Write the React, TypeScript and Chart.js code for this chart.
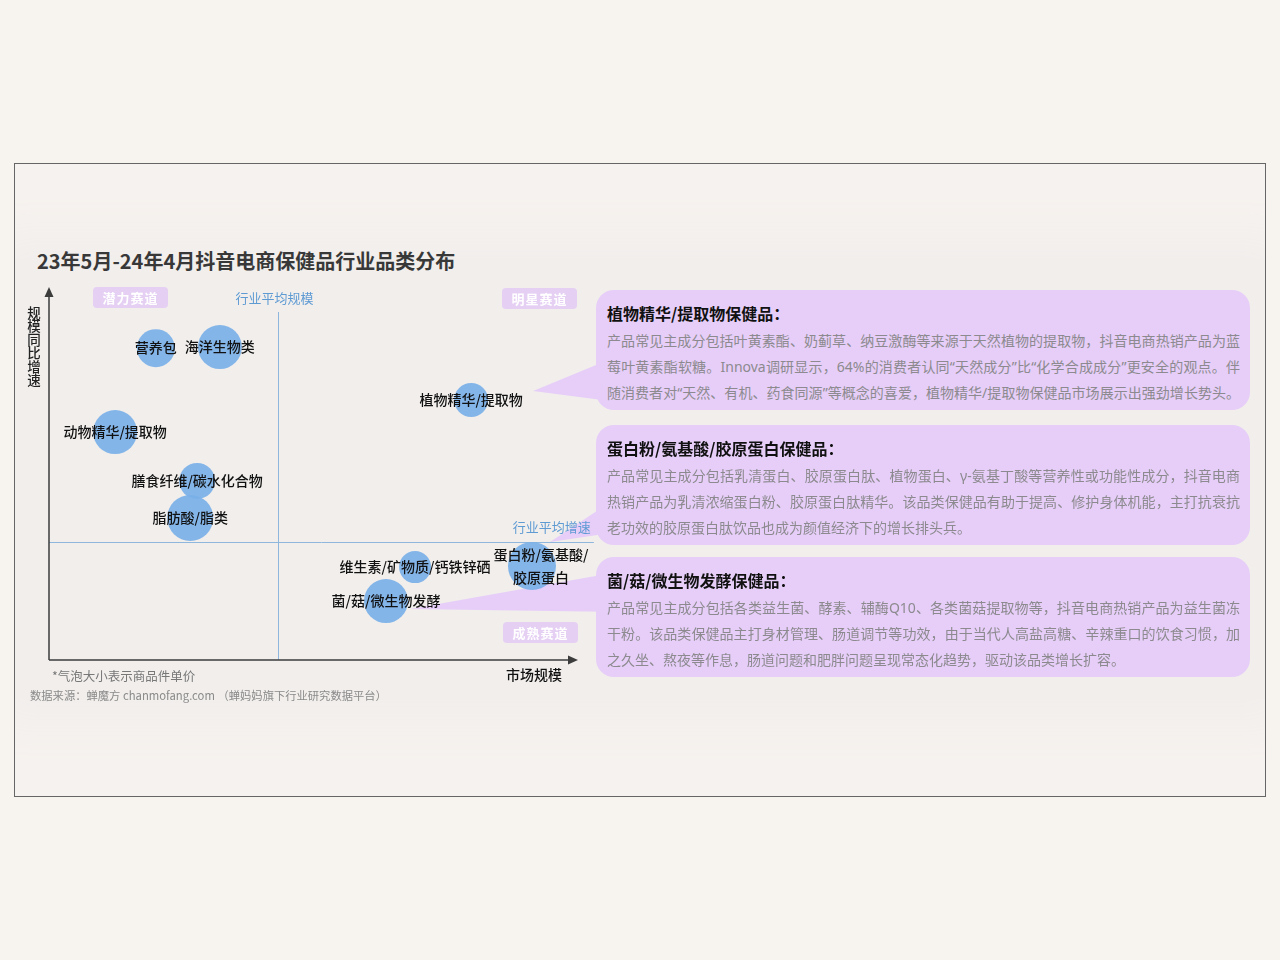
import React, { useEffect, useRef } from "react";
import { Chart, registerables } from "chart.js";

Chart.register(...registerables);

// ---------- data ----------
const categories = [
  "营养包",
  "海洋生物类",
  "动物精华/提取物",
  "膳食纤维/碳水化合物",
  "脂肪酸/脂类",
  "植物精华/提取物",
  "维生素/矿物质/钙铁锌硒",
  "菌/菇/微生物发酵",
  "蛋白粉/氨基酸/|胶原蛋白",
];
// market scale (x), YoY growth (y), bubble size = unit price
const marketScale = [20.2, 32.3, 12.5, 28.0, 26.7, 79.8, 69.2, 63.7, 91.3];
const growthRate = [83.6, 83.9, 61.1, 48.0, 38.1, 69.7, 24.9, 15.8, 25.2];
const unitPrice = [19, 22, 22, 18, 23, 17, 16, 22, 24];
const labelShiftX = [0, 0, 0, 0, 0, 0, 0, 0, 9];

const AVG_SCALE = 43.3;
const AVG_GROWTH = 31.6;

const TITLE = "23年5月-24年4月抖音电商保健品行业品类分布";
const X_TITLE = "市场规模";
const Y_TITLE = "规模同比增速";
const AVG_SCALE_LABEL = "行业平均规模";
const AVG_GROWTH_LABEL = "行业平均增速";
const quadrantLabels = ["潜力赛道", "明星赛道", "成熟赛道"];
const NOTE = "*气泡大小表示商品件单价";
const SOURCE = "数据来源：蝉魔方 chanmofang.com （蝉妈妈旗下行业研究数据平台）";

const boxTitles = [
  "植物精华/提取物保健品：",
  "蛋白粉/氨基酸/胶原蛋白保健品：",
  "菌/菇/微生物发酵保健品：",
];
const boxLines = [
  [
    "产品常见主成分包括叶黄素酯、奶蓟草、纳豆激酶等来源于天然植物的提取物，抖音电商热销产品为蓝",
    "莓叶黄素酯软糖。Innova调研显示，64%的消费者认同“天然成分”比“化学合成成分”更安全的观点。伴",
    "随消费者对“天然、有机、药食同源”等概念的喜爱，植物精华/提取物保健品市场展示出强劲增长势头。",
  ],
  [
    "产品常见主成分包括乳清蛋白、胶原蛋白肽、植物蛋白、γ-氨基丁酸等营养性或功能性成分，抖音电商",
    "热销产品为乳清浓缩蛋白粉、胶原蛋白肽精华。该品类保健品有助于提高、修护身体机能，主打抗衰抗",
    "老功效的胶原蛋白肽饮品也成为颜值经济下的增长排头兵。",
  ],
  [
    "产品常见主成分包括各类益生菌、酵素、辅酶Q10、各类菌菇提取物等，抖音电商热销产品为益生菌冻",
    "干粉。该品类保健品主打身材管理、肠道调节等功效，由于当代人高盐高糖、辛辣重口的饮食习惯，加",
    "之久坐、熬夜等作息，肠道问题和肥胖问题呈现常态化趋势，驱动该品类增长扩容。",
  ],
];
const boxLastJustified = [true, false, false];
// which bubble each callout box points to
const calloutBubble = [5, 8, 7];

const FONT = '"Noto Sans CJK SC", "Noto Sans", sans-serif';
const BODY_FONT = '"Noto Sans", "Noto Sans CJK SC", sans-serif';
const PURPLE = "#e6cef8";
const BUBBLE = "rgba(122,176,232,0.92)";
const AVG_COLOR = "#8fb6dc";
const AVG_TEXT = "#5f9bd3";

// callout wedge geometry (tip offset from bubble, edge y on box side relative to bubble)
const wedgeTip = [
  [62, -9],
  [18, -24],
  [24, 8],
];
const wedgeEdge = [
  [-44, 2],
  [-69, -34],
  [-29, 11],
];

const overlayPlugin = {
  id: "overlay",
  beforeDatasetsDraw(chart: any) {
    const { ctx, chartArea, scales } = chart;
    const { left, right, top, bottom } = chartArea;
    const xs = scales.x;
    const ys = scales.y;
    const meta = chart.getDatasetMeta(0);
    ctx.save();
    // callout wedges
    ctx.fillStyle = PURPLE;
    calloutBubble.forEach((bi, k) => {
      const el = meta.data[bi];
      if (!el) return;
      const tx = el.x + wedgeTip[k][0];
      const ty = el.y + wedgeTip[k][1];
      const ex = right + 40;
      ctx.beginPath();
      ctx.moveTo(tx, ty);
      ctx.lineTo(ex, el.y + wedgeEdge[k][0]);
      ctx.lineTo(ex, el.y + wedgeEdge[k][1]);
      ctx.closePath();
      ctx.fill();
    });
    // average lines
    ctx.strokeStyle = AVG_COLOR;
    ctx.lineWidth = 1;
    const ax = Math.round(xs.getPixelForValue(AVG_SCALE)) + 0.5;
    const ay = Math.round(ys.getPixelForValue(AVG_GROWTH)) + 0.5;
    ctx.beginPath();
    ctx.moveTo(ax, ys.getPixelForValue(93.3));
    ctx.lineTo(ax, bottom);
    ctx.stroke();
    ctx.beginPath();
    ctx.moveTo(left, ay);
    ctx.lineTo(xs.getPixelForValue(103), ay);
    ctx.stroke();
    // avg texts
    ctx.fillStyle = AVG_TEXT;
    ctx.font = `13px ${FONT}`;
    ctx.textBaseline = "middle";
    ctx.textAlign = "center";
    ctx.fillText(AVG_SCALE_LABEL, ax - 4, top + 11);
    ctx.textAlign = "right";
    ctx.fillText(AVG_GROWTH_LABEL, xs.getPixelForValue(102.4), ay - 15);
    // axes
    ctx.strokeStyle = "#3c3c3c";
    ctx.fillStyle = "#3c3c3c";
    ctx.lineWidth = 1.5;
    ctx.beginPath();
    ctx.moveTo(left, bottom);
    ctx.lineTo(left, top + 6);
    ctx.moveTo(left, bottom);
    ctx.lineTo(right - 6, bottom);
    ctx.stroke();
    ctx.beginPath();
    ctx.moveTo(left, top);
    ctx.lineTo(left - 4.5, top + 10);
    ctx.lineTo(left + 4.5, top + 10);
    ctx.closePath();
    ctx.fill();
    ctx.beginPath();
    ctx.moveTo(right, bottom);
    ctx.lineTo(right - 10, bottom - 4.5);
    ctx.lineTo(right - 10, bottom + 4.5);
    ctx.closePath();
    ctx.fill();
    ctx.restore();
  },
  afterDatasetsDraw(chart: any) {
    const { ctx } = chart;
    const meta = chart.getDatasetMeta(0);
    ctx.save();
    ctx.fillStyle = "#111";
    ctx.font = `500 14px ${FONT}`;
    ctx.textAlign = "center";
    ctx.textBaseline = "middle";
    meta.data.forEach((el: any, i: number) => {
      const lines = categories[i].split("|");
      const lh = 23;
      const y0 = el.y - ((lines.length - 1) * lh) / 2;
      lines.forEach((ln, j) => {
        ctx.fillText(ln, el.x + labelShiftX[i], y0 + j * lh);
      });
    });
    ctx.restore();
  },
};

function BubbleChart() {
  const ref = useRef<HTMLCanvasElement | null>(null);
  useEffect(() => {
    if (!ref.current) return;
    const chart = new Chart(ref.current, {
      type: "bubble",
      data: {
        datasets: [
          {
            data: categories.map((_, i) => ({
              x: marketScale[i],
              y: growthRate[i],
              r: unitPrice[i],
            })),
            backgroundColor: BUBBLE,
            borderWidth: 0,
            hoverBorderWidth: 0,
            clip: false as any,
          },
        ],
      },
      options: {
        responsive: false,
        animation: false,
        devicePixelRatio: 1,
        layout: { autoPadding: false, padding: { left: 35, right: 26, top: 17, bottom: 30 } },
        scales: {
          x: { type: "linear", min: 0, max: 100, display: false },
          y: { type: "linear", min: 0, max: 100, display: false },
        },
        plugins: {
          legend: { display: false },
          tooltip: { enabled: false },
        },
        events: [],
      },
      plugins: [overlayPlugin],
    });
    return () => chart.destroy();
  }, []);
  return <canvas ref={ref} width={590} height={420} style={{ display: "block" }} />;
}

const pill = (left: number, top: number): React.CSSProperties => ({
  position: "absolute",
  left,
  top,
  width: 75,
  height: 21,
  borderRadius: 4,
  background: "#e5d0f4",
  color: "#ffffff",
  fontSize: 13,
  fontWeight: 700,
  lineHeight: "21px",
  textAlign: "center",
  letterSpacing: 1,
});

export default function App() {
  const boxTops = [290, 425, 557];
  return (
    <div
      style={{
        position: "absolute",
        left: 0,
        top: 0,
        width: 1280,
        height: 960,
        background: "#f7f3ee",
        fontFamily: FONT,
        overflow: "hidden",
      }}
    >
      <div
        style={{
          position: "absolute",
          left: 14,
          top: 163,
          width: 1250,
          height: 632,
          border: "1px solid #666",
          background: "#f6f2ef",
          overflow: "hidden",
        }}
      >
        <div
          style={{
            position: "absolute",
            left: 0,
            top: 95,
            width: 1250,
            height: 440,
            background: "#f1eeec",
            boxShadow: "0 0 40px 24px #f1eeec",
          }}
        />
      </div>

      <div
        style={{
          position: "absolute",
          left: 37,
          top: 248,
          fontSize: 20,
          fontWeight: 700,
          color: "#383838",
          lineHeight: "26px",
          whiteSpace: "nowrap",
        }}
      >
        {TITLE}
      </div>

      <div style={{ position: "absolute", left: 14, top: 270, width: 590, height: 420 }}>
        <BubbleChart />
      </div>

      <div
        style={{
          position: "absolute",
          left: 26,
          top: 306,
          writingMode: "vertical-rl",
          fontSize: 13.5,
          lineHeight: "16px",
          letterSpacing: 0,
          color: "#222",
          fontWeight: 500,
        }}
      >
        {Y_TITLE}
      </div>

      <div style={pill(93, 287)}>{quadrantLabels[0]}</div>
      <div style={pill(502, 288)}>{quadrantLabels[1]}</div>
      <div style={pill(503, 622)}>{quadrantLabels[2]}</div>

      <div
        style={{
          position: "absolute",
          left: 506,
          top: 664,
          fontSize: 14,
          fontWeight: 500,
          color: "#111",
          lineHeight: "20px",
        }}
      >
        {X_TITLE}
      </div>
      <div
        style={{
          position: "absolute",
          left: 52,
          top: 667,
          fontSize: 12.5,
          color: "#777",
          lineHeight: "18px",
          whiteSpace: "nowrap",
        }}
      >
        {NOTE}
      </div>
      <div
        style={{
          position: "absolute",
          left: 30,
          top: 687,
          fontSize: 11.3,
          color: "#8a8a8a",
          lineHeight: "16px",
          whiteSpace: "nowrap",
        }}
      >
        {SOURCE}
      </div>

      {boxTitles.map((t, k) => (
        <div
          key={k}
          style={{
            position: "absolute",
            left: 596,
            top: boxTops[k],
            width: 654,
            height: 120,
            borderRadius: 18,
            background: PURPLE,
            boxSizing: "border-box",
            padding: "11px 10px 0 11px",
          }}
        >
          <div
            style={{
              fontSize: 16,
              fontWeight: 700,
              color: "#111",
              lineHeight: "24px",
              whiteSpace: "nowrap",
            }}
          >
            {t}
          </div>
          <div style={{ marginTop: 3 }}>
            {boxLines[k].map((ln, j) => {
              const justify = j < boxLines[k].length - 1 || boxLastJustified[k];
              return (
                <div
                  key={j}
                  style={{
                    width: 633,
                    fontFamily: BODY_FONT,
                    fontSize: 14,
                    color: "#8c8a8e",
                    lineHeight: "26px",
                    height: 26,
                    whiteSpace: "nowrap",
                    textAlign: justify ? "justify" : "left",
                    textAlignLast: justify ? "justify" : "left",
                    overflow: "visible",
                  }}
                >
                  {ln}
                </div>
              );
            })}
          </div>
        </div>
      ))}
    </div>
  );
}
